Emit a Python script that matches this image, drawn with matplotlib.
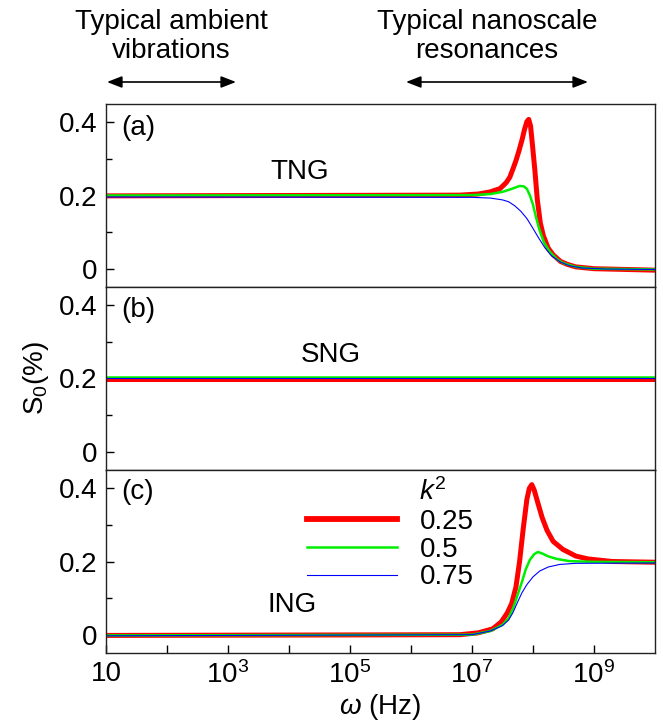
import numpy as np
import matplotlib
matplotlib.use("Agg")
import matplotlib.pyplot as plt
from matplotlib.lines import Line2D

plt.rcParams['font.family'] = ['Liberation Sans', 'DejaVu Sans']
plt.rcParams['mathtext.fontset'] = 'custom'
plt.rcParams['mathtext.rm'] = 'Liberation Sans'
plt.rcParams['mathtext.it'] = 'Liberation Sans:italic'

# ---------------- data (log10 of omega in Hz, S0 in %) ----------------
k2_labels = ["0.25", "0.5", "0.75"]

# Panel (a) TNG
a_red_logw = [1, 6.8, 7.1, 7.3, 7.46, 7.56, 7.62, 7.67, 7.72, 7.77, 7.82, 7.86, 7.9, 7.93, 7.96, 7.99,
              8.03, 8.07, 8.12, 8.17, 8.25, 8.33, 8.45, 8.56, 8.7, 9.0, 10]
a_red_S = [0.199, 0.201, 0.204, 0.21, 0.219, 0.235, 0.25, 0.272, 0.295, 0.322, 0.352, 0.38, 0.402, 0.408,
           0.39, 0.34, 0.27, 0.19, 0.125, 0.09, 0.056, 0.038, 0.02, 0.012, 0.005, 0.0, -0.004]
a_green_logw = [1, 7.0, 7.3, 7.5, 7.65, 7.78, 7.85, 7.9, 7.95, 8.0, 8.05, 8.11, 8.18, 8.28, 8.4, 8.5,
                8.7, 9.0, 10]
a_green_S = [0.2, 0.201, 0.204, 0.21, 0.218, 0.226, 0.225, 0.218, 0.2, 0.175, 0.14, 0.104, 0.072, 0.045,
             0.025, 0.015, 0.005, 0.0, -0.002]
a_blue_logw = [1, 7.0, 7.3, 7.5, 7.6, 7.7, 7.8, 7.9, 8.0, 8.1, 8.2, 8.3, 8.45, 8.6, 8.8, 9.2, 10]
a_blue_S = [0.196, 0.195, 0.193, 0.188, 0.183, 0.172, 0.157, 0.137, 0.11, 0.082, 0.056, 0.036, 0.018,
            0.008, 0.002, -0.001, -0.002]

# Panel (b) SNG
b_logw = [1, 10]
b_red_S = [0.199, 0.199]
b_green_S = [0.203, 0.203]
b_blue_S = [0.201, 0.201]

# Panel (c) ING
c_red_logw = [1, 6.8, 7.1, 7.34, 7.48, 7.58, 7.65, 7.72, 7.78, 7.84, 7.9, 7.94, 7.98, 8.02, 8.08, 8.15,
              8.23, 8.33, 8.49, 8.7, 8.9, 9.3, 10]
c_red_S = [-0.002, 0.0, 0.005, 0.016, 0.035, 0.06, 0.085, 0.13, 0.2, 0.29, 0.37, 0.4, 0.41, 0.395, 0.36,
           0.32, 0.285, 0.255, 0.233, 0.215, 0.207, 0.2, 0.198]
c_green_logw = [1, 7.0, 7.3, 7.5, 7.6, 7.68, 7.75, 7.82, 7.88, 7.95, 8.02, 8.08, 8.15, 8.25, 8.39, 8.6,
                9.0, 10]
c_green_S = [-0.002, 0.0, 0.01, 0.027, 0.045, 0.075, 0.11, 0.145, 0.178, 0.205, 0.22, 0.226, 0.222,
             0.214, 0.207, 0.201, 0.199, 0.198]
c_blue_logw = [1, 7.0, 7.3, 7.5, 7.6, 7.67, 7.75, 7.82, 7.9, 8.0, 8.11, 8.25, 8.44, 8.7, 10]
c_blue_S = [-0.003, 0.0, 0.01, 0.025, 0.04, 0.06, 0.09, 0.115, 0.137, 0.158, 0.174, 0.185, 0.192, 0.195,
            0.196]

panel_labels = ["(a)", "(b)", "(c)"]
panel_names = ["TNG", "SNG", "ING"]
ytick_vals = [0, 0.2, 0.4]
ytick_labels = ["0", "0.2", "0.4"]
xtick_vals = [1e1, 1e3, 1e5, 1e7, 1e9]
xtick_labels = ["10", "10$^{3}$", "10$^{5}$", "10$^{7}$", "10$^{9}$"]

colors = ["#ff0000", "#00ee00", "#0000ff"]
widths = [3.6, 1.8, 0.8]

# ---------------- figure ----------------
W, H = 663, 722
fig = plt.figure(figsize=(W / 100, H / 100), dpi=100)


def fx(px):
    return px / W


def fy(py):
    return 1 - py / H


left, right = fx(106), fx(655)
top, bottom = fy(104), fy(653)
axes = fig.subplots(3, 1, sharex=True,
                    gridspec_kw=dict(left=left, right=right, top=top, bottom=bottom, hspace=0))

data = [
    [(a_red_logw, a_red_S), (a_green_logw, a_green_S), (a_blue_logw, a_blue_S)],
    [(b_logw, b_red_S), (b_logw, b_green_S), (b_logw, b_blue_S)],
    [(c_red_logw, c_red_S), (c_green_logw, c_green_S), (c_blue_logw, c_blue_S)],
]

fs = 20
for i, ax in enumerate(axes):
    for (lw_, s), col, w in zip(data[i], colors, widths):
        ax.plot(10 ** np.array(lw_), s, color=col, lw=w, solid_capstyle='butt')
    ax.set_xscale('log')
    ax.set_xlim(10, 1e10)
    ax.set_ylim(-0.05, 0.45)
    ax.set_yticks(ytick_vals)
    ax.set_yticklabels(ytick_labels, fontsize=fs)
    ax.set_yticks([0.1, 0.3], minor=True)
    ax.tick_params(axis='y', which='major', direction='in', length=6, width=1, pad=6)
    ax.tick_params(axis='y', which='minor', direction='in', length=4, width=1)
    for sp in ax.spines.values():
        sp.set_linewidth(1.0)
        sp.set_color('#222222')
    if i < 2:
        ax.tick_params(axis='x', which='both', bottom=False, labelbottom=False)

# panel labels and names (figure pixel positions)
for lab, (px, py) in zip(panel_labels, [(121, 128), (121, 310), (121, 492)]):
    fig.text(fx(px), fy(py), lab, fontsize=fs, ha='left', va='center')
for name, (px, py) in zip(panel_names, [(300, 172), (331, 355), (292, 605)]):
    fig.text(fx(px), fy(py), name, fontsize=fs, ha='center', va='center')

axc = axes[2]
axc.set_xticks(xtick_vals)
axc.set_xticklabels(xtick_labels, fontsize=fs)
axc.set_xticks([1e2, 1e4, 1e6, 1e8], minor=True)
axc.xaxis.set_minor_formatter(matplotlib.ticker.NullFormatter())
axc.tick_params(axis='x', which='both', direction='in', length=6, width=1, pad=6)
axc.set_xlabel(r'$\mathit{\omega}$ (Hz)', fontsize=fs, labelpad=2)

fig.text(fx(36), (top + bottom) / 2, 'S$_0$(%)', rotation=90, fontsize=fs, ha='center', va='center')

# legend
handles = [Line2D([], [], color=c, lw=w) for c, w in zip(colors, [4.2, 1.8, 0.8])]
leg = axc.legend(handles, k2_labels, loc='upper left', bbox_to_anchor=(fx(307), fy(509)),
                 bbox_transform=fig.transFigure, frameon=False, borderpad=0,
                 fontsize=fs, handlelength=3.25, handletextpad=0.8, labelspacing=0.06, borderaxespad=0)
fig.text(fx(419), fy(492), r'$\mathit{k}^{2}$', fontsize=fs, ha='left', va='center')

# top annotations
fig.text(fx(171), fy(22), 'Typical ambient', fontsize=fs, ha='center', va='center')
fig.text(fx(171), fy(51), 'vibrations', fontsize=fs, ha='center', va='center')
fig.text(fx(487), fy(22), 'Typical nanoscale', fontsize=fs, ha='center', va='center')
fig.text(fx(487), fy(51), 'resonances', fontsize=fs, ha='center', va='center')
ya = fy(82)
for x0, x1 in [(107, 236), (406, 588)]:
    fig.add_artist(matplotlib.patches.FancyArrowPatch((fx(x0), ya), (fx(x1), ya), transform=fig.transFigure,
                                                      arrowstyle='<|-|>,head_length=9,head_width=3.5',
                                                      color='black', lw=1.2, mutation_scale=1,
                                                      shrinkA=0, shrinkB=0))

fig.savefig('out.png', dpi=100)
